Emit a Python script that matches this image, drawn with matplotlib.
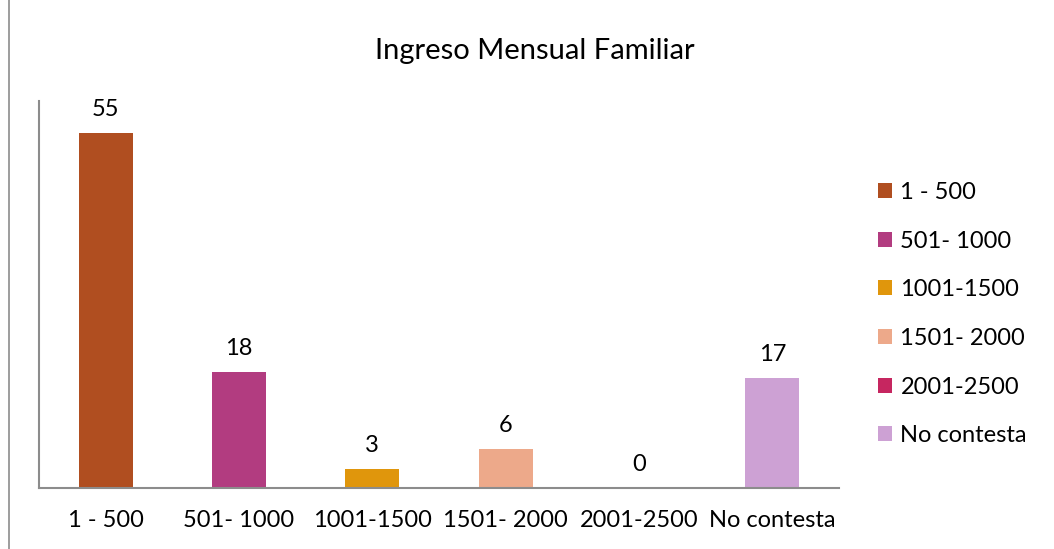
import matplotlib.pyplot as plt
from matplotlib.patches import Patch
from matplotlib.lines import Line2D

plt.rcParams['font.family'] = ['Lato', 'DejaVu Sans']

categorias = ['1 - 500', '501- 1000', '1001-1500', '1501- 2000', '2001-2500', 'No contesta']
valores = [55, 18, 3, 6, 0, 17]
colores = ['#B04E20', '#B23C80', '#E0960C', '#EDA98A', '#C62660', '#CDA1D4']

fig = plt.figure(figsize=(10.54, 5.49), dpi=100)
ax = fig.add_axes([39 / 1054, 1 - 488 / 549, 800 / 1054, 387 / 549])

x = range(len(categorias))
ax.bar(x, valores, width=0.405, color=colores)
for i, v in zip(x, valores):
    ax.text(i, v + 2.0, str(v), ha='center', va='bottom', fontsize=17)

ax.set_xlim(-0.5, len(categorias) - 0.5)
ax.set_ylim(0, 60)
ax.set_xticks(list(x))
ax.set_xticklabels(categorias, fontsize=17)
ax.tick_params(axis='x', length=0, pad=16)
ax.set_yticks([])
for s in ['top', 'right']:
    ax.spines[s].set_visible(False)
for s in ['left', 'bottom']:
    ax.spines[s].set_color('#8C8C8C')
    ax.spines[s].set_linewidth(1.5)

fig.text(535 / 1054, 1 - 51 / 549, 'Ingreso Mensual Familiar', ha='center', va='center', fontsize=21)

handles = [Patch(facecolor=c, edgecolor='none') for c in colores]
fig.legend(handles, categorias, loc='upper left', bbox_to_anchor=(878 / 1054, 1 - 182 / 549),
           frameon=False, fontsize=17, handlelength=0.6, handleheight=0.6,
           handletextpad=0.35, labelspacing=1.17, borderaxespad=0, borderpad=0)

# borde del grafico
fig.add_artist(Line2D([9 / 1054, 9 / 1054], [0, 1], color='#8C8C8C', lw=1.2))

fig.savefig('out.png', dpi=100)
